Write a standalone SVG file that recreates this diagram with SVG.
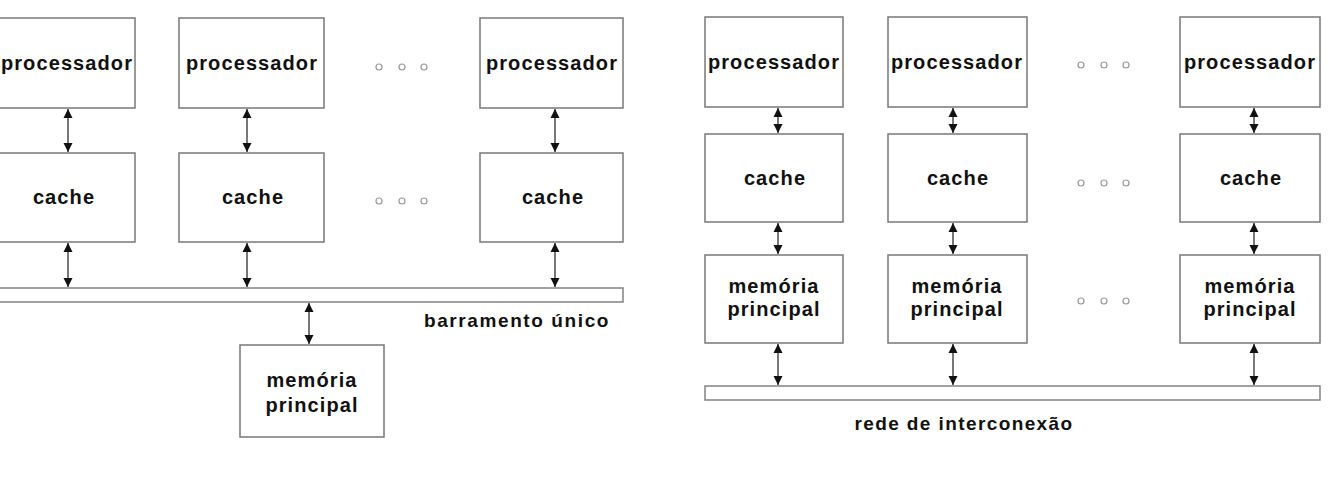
<svg xmlns="http://www.w3.org/2000/svg" width="1328" height="485" viewBox="0 0 1328 485">
<style>
.box{fill:#fff;stroke:#808080;stroke-width:1.6}
.bus{fill:#fff;stroke:#8a8a8a;stroke-width:1.6}
.t{font-family:"Liberation Sans",Arial,sans-serif;font-weight:bold;font-size:20px;letter-spacing:1.1px;fill:#111;text-anchor:middle}
.lbl{font-family:"Liberation Sans",Arial,sans-serif;font-weight:bold;font-size:19px;letter-spacing:1.6px;fill:#111;text-anchor:middle}
.lbl2{font-family:"Liberation Sans",Arial,sans-serif;font-weight:bold;font-size:19px;letter-spacing:1.4px;fill:#111;text-anchor:middle}
.arr{stroke:#555;stroke-width:1.6;fill:none;marker-start:url(#ah);marker-end:url(#ah)}
.dot{fill:#fff;stroke:#999;stroke-width:1.2}
</style>
<defs>
<marker id="ah" viewBox="0 0 10 10" refX="10" refY="5" markerUnits="userSpaceOnUse" markerWidth="9" markerHeight="10" orient="auto-start-reverse">
<path d="M0,0 L10,5 L0,10 z" fill="#111"/>
</marker>
</defs>
<rect width="1328" height="485" fill="#fff"/>

<!-- Left diagram -->
<g id="L-proc1"><rect class="box" x="-5" y="18" width="140" height="90"/><text class="t" x="67" y="70">processador</text></g>
<g id="L-proc2"><rect class="box" x="179" y="18" width="145" height="90"/><text class="t" x="252" y="70">processador</text></g>
<g id="L-proc3"><rect class="box" x="480" y="18" width="143" height="90"/><text class="t" x="552" y="70">processador</text></g>
<g id="L-cache1"><rect class="box" x="-5" y="153" width="140" height="89"/><text class="t" x="64" y="204">cache</text></g>
<g id="L-cache2"><rect class="box" x="179" y="153" width="145" height="89"/><text class="t" x="253" y="204">cache</text></g>
<g id="L-cache3"><rect class="box" x="480" y="153" width="143" height="89"/><text class="t" x="553" y="204">cache</text></g>
<g id="L-bus"><rect class="bus" x="-5" y="288" width="628" height="14"/><text class="lbl" x="517" y="327">barramento único</text></g>
<g id="L-mem"><rect class="box" x="240" y="345" width="144" height="92"/><text class="t" x="312" y="387">memória</text><text class="t" x="312" y="412">principal</text></g>
<g id="L-dots">
<circle class="dot" cx="379" cy="67" r="3"/><circle class="dot" cx="402" cy="67" r="3"/><circle class="dot" cx="424" cy="67" r="3"/>
<circle class="dot" cx="379" cy="201" r="3"/><circle class="dot" cx="402" cy="201" r="3"/><circle class="dot" cx="424" cy="201" r="3"/>
</g>

<!-- Right diagram -->
<g id="R-proc1"><rect class="box" x="705" y="17" width="138" height="90"/><text class="t" x="774" y="69">processador</text></g>
<g id="R-proc2"><rect class="box" x="888" y="17" width="139" height="90"/><text class="t" x="957" y="69">processador</text></g>
<g id="R-proc3"><rect class="box" x="1180" y="17" width="140" height="90"/><text class="t" x="1250" y="69">processador</text></g>
<g id="R-cache1"><rect class="box" x="705" y="134" width="138" height="88"/><text class="t" x="775" y="185">cache</text></g>
<g id="R-cache2"><rect class="box" x="888" y="134" width="139" height="88"/><text class="t" x="958" y="185">cache</text></g>
<g id="R-cache3"><rect class="box" x="1180" y="134" width="140" height="88"/><text class="t" x="1251" y="185">cache</text></g>
<g id="R-mem1"><rect class="box" x="705" y="255" width="138" height="88"/><text class="t" x="774" y="293">memória</text><text class="t" x="774" y="316">principal</text></g>
<g id="R-mem2"><rect class="box" x="888" y="255" width="139" height="88"/><text class="t" x="957" y="293">memória</text><text class="t" x="957" y="316">principal</text></g>
<g id="R-mem3"><rect class="box" x="1180" y="255" width="140" height="88"/><text class="t" x="1250" y="293">memória</text><text class="t" x="1250" y="316">principal</text></g>
<g id="R-bus"><rect class="bus" x="705" y="386" width="615" height="14"/><text class="lbl2" x="964" y="430">rede de interconexão</text></g>
<g id="R-dots">
<circle class="dot" cx="1081" cy="65" r="3"/><circle class="dot" cx="1104" cy="65" r="3"/><circle class="dot" cx="1126" cy="65" r="3"/>
<circle class="dot" cx="1081" cy="183" r="3"/><circle class="dot" cx="1104" cy="183" r="3"/><circle class="dot" cx="1126" cy="183" r="3"/>
<circle class="dot" cx="1081" cy="301" r="3"/><circle class="dot" cx="1104" cy="301" r="3"/><circle class="dot" cx="1126" cy="301" r="3"/>
</g>

<g id="connectors">
<line class="arr" x1="68" y1="109" x2="68" y2="152"/>
<line class="arr" x1="247" y1="109" x2="247" y2="152"/>
<line class="arr" x1="555" y1="109" x2="555" y2="152"/>
<line class="arr" x1="68" y1="243" x2="68" y2="287"/>
<line class="arr" x1="247" y1="243" x2="247" y2="287"/>
<line class="arr" x1="555" y1="243" x2="555" y2="287"/>
<line class="arr" x1="309" y1="303" x2="309" y2="344"/>
<line class="arr" x1="778" y1="108" x2="778" y2="133"/>
<line class="arr" x1="953" y1="108" x2="953" y2="133"/>
<line class="arr" x1="1254" y1="108" x2="1254" y2="133"/>
<line class="arr" x1="778" y1="223" x2="778" y2="254"/>
<line class="arr" x1="953" y1="223" x2="953" y2="254"/>
<line class="arr" x1="1254" y1="223" x2="1254" y2="254"/>
<line class="arr" x1="778" y1="344" x2="778" y2="385"/>
<line class="arr" x1="953" y1="344" x2="953" y2="385"/>
<line class="arr" x1="1254" y1="344" x2="1254" y2="385"/>
</g>
</svg>
